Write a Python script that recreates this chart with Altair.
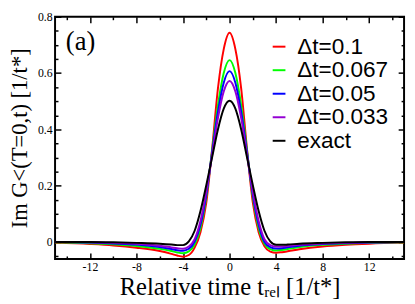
import altair as alt
import pandas as pd

# ---- data ----
t = [-15, -12, -10, -8, -6, -5, -4.5, -4, -3.5, -3, -2.5, -2, -1.5, -1, -0.5, 0,
     0.5, 1, 1.5, 2, 2.5, 3, 3.5, 4, 4.5, 5, 6, 8, 10, 12, 15]

dt_0100 = [-0.002, -0.007, -0.012, -0.020, -0.032, -0.042, -0.048, -0.052, -0.046, -0.020, 0.035, 0.140, 0.330, 0.545, 0.685, 0.743,
           0.685, 0.545, 0.330, 0.140, 0.035, -0.015, -0.034, -0.038, -0.036, -0.033, -0.026, -0.016, -0.010, -0.006, -0.002]
dt_0067 = [-0.001, -0.004, -0.008, -0.014, -0.024, -0.032, -0.037, -0.040, -0.033, -0.008, 0.050, 0.160, 0.325, 0.485, 0.600, 0.646,
           0.600, 0.485, 0.325, 0.160, 0.050, -0.006, -0.025, -0.030, -0.028, -0.025, -0.018, -0.010, -0.006, -0.003, -0.001]
dt_0050 = [0.000, -0.002, -0.005, -0.009, -0.018, -0.025, -0.029, -0.031, -0.024, 0.002, 0.062, 0.168, 0.318, 0.462, 0.566, 0.607,
           0.566, 0.462, 0.318, 0.168, 0.062, 0.000, -0.018, -0.023, -0.022, -0.019, -0.013, -0.007, -0.004, -0.002, 0.000]
dt_0033 = [0.000, -0.001, -0.003, -0.006, -0.013, -0.019, -0.022, -0.024, -0.016, 0.010, 0.075, 0.178, 0.310, 0.440, 0.535, 0.572,
           0.535, 0.440, 0.310, 0.178, 0.075, 0.010, -0.011, -0.016, -0.016, -0.014, -0.010, -0.005, -0.003, -0.001, 0.000]
exact = [0.000, 0.000, -0.001, -0.003, -0.006, -0.009, -0.011, -0.011, 0.002, 0.040, 0.110, 0.202, 0.301, 0.400, 0.474, 0.502,
         0.474, 0.400, 0.301, 0.202, 0.110, 0.040, 0.002, -0.010, -0.010, -0.009, -0.006, -0.003, -0.001, 0.000, 0.000]

series_names = ["Δt=0.1", "Δt=0.067", "Δt=0.05", "Δt=0.033", "exact"]
series_colors = ["#ff0000", "#00ff00", "#0000ff", "#9400d3", "#000000"]

x_major = [-12, -8, -4, 0, 4, 8, 12]
x_minor = [-14, -10, -6, -2, 2, 6, 10, 14]
y_major = [0, 0.2, 0.4, 0.6, 0.8]
y_minor = [-0.05, 0.05, 0.1, 0.15, 0.25, 0.3, 0.35, 0.45, 0.5, 0.55, 0.65, 0.7, 0.75]
panel_label = ["(a)"]

x_title = "Relative time tᵣₑₗ [1/t*]"
y_title = "Im G˂(T=0,t) [1/t*]"

# ---- build table ----
rows = []
for name, vals in zip(series_names, [dt_0100, dt_0067, dt_0050, dt_0033, exact]):
    for ti, v in zip(t, vals):
        rows.append({"t": ti, "g": v, "series": name})
df = pd.DataFrame(rows)

SERIF = "Liberation Serif"
SANS = "Liberation Sans"

xscale = alt.Scale(domain=[-15, 15], nice=False, zero=False)
yscale = alt.Scale(domain=[-0.06, 0.8], nice=False, zero=False)

MAJ = 6
MIN = 3

lines = alt.Chart(df).mark_line(strokeWidth=2, interpolate="monotone", clip=True).encode(
    x=alt.X("t:Q", scale=xscale, axis=alt.Axis(
        orient="bottom", values=x_major, tickSize=MAJ, offset=-MAJ,
        labelExpr="toString(datum.value)", labelFontSize=12, labelPadding=3,
        title=x_title, titleFontSize=25, titlePadding=2)),
    y=alt.Y("g:Q", scale=yscale, axis=alt.Axis(
        orient="left", values=y_major, tickSize=MAJ, offset=-MAJ,
        labelExpr="datum.value == 0 ? '0' : format(datum.value, '.1f')",
        labelFontSize=12, labelPadding=3,
        title=y_title, titleFontSize=23, titlePadding=6)),
    color=alt.Color("series:N",
                    scale=alt.Scale(domain=series_names, range=series_colors),
                    legend=alt.Legend(orient="none", legendX=217, legendY=19, title=None,
                                      symbolType="stroke", symbolStrokeWidth=2, symbolSize=169,
                                      labelFont=SANS,
                                      labelFontSize=23, labelColor="black",
                                      rowPadding=0, labelOffset=7, padding=0)),
)

minor_bl = alt.Chart(df).mark_point(opacity=0).encode(
    x=alt.X("t:Q", scale=xscale, axis=alt.Axis(
        orient="bottom", values=x_minor, tickSize=MIN, offset=-MIN, labels=False, title=None)),
    y=alt.Y("g:Q", scale=yscale, axis=alt.Axis(
        orient="left", values=y_minor, tickSize=MIN, offset=-MIN, labels=False, title=None)),
)

major_tr = alt.Chart(df).mark_point(opacity=0).encode(
    x=alt.X("t:Q", scale=xscale, axis=alt.Axis(
        orient="top", values=x_major, tickSize=MAJ, offset=-MAJ, labels=False, title=None)),
    y=alt.Y("g:Q", scale=yscale, axis=alt.Axis(
        orient="right", values=y_major, tickSize=MAJ, offset=-MAJ, labels=False, title=None)),
)

minor_tr = alt.Chart(df).mark_point(opacity=0).encode(
    x=alt.X("t:Q", scale=xscale, axis=alt.Axis(
        orient="top", values=x_minor, tickSize=MIN, offset=-MIN, labels=False, title=None)),
    y=alt.Y("g:Q", scale=yscale, axis=alt.Axis(
        orient="right", values=y_minor, tickSize=MIN, offset=-MIN, labels=False, title=None)),
)

label_a = alt.Chart(pd.DataFrame({"lab": panel_label})).mark_text(
    font=SERIF, fontSize=27, align="left", baseline="middle", color="black"
).encode(text="lab:N", x=alt.value(11), y=alt.value(26))

chart = alt.layer(lines, minor_bl, major_tr, minor_tr, label_a).resolve_axis(
    x="independent", y="independent"
).properties(
    width=356, height=247, padding={"left": 1, "top": 0, "right": 0, "bottom": 0}
).configure_view(
    stroke="black", strokeWidth=2
).configure_axis(
    grid=False, domain=False, tickColor="black", tickWidth=1.5,
    labelFont=SERIF, labelColor="black", titleFont=SERIF, titleColor="black",
    titleFontWeight="normal", labelFlush=False
)

chart.save("out.html", embed_options={"renderer": "svg", "actions": False})
